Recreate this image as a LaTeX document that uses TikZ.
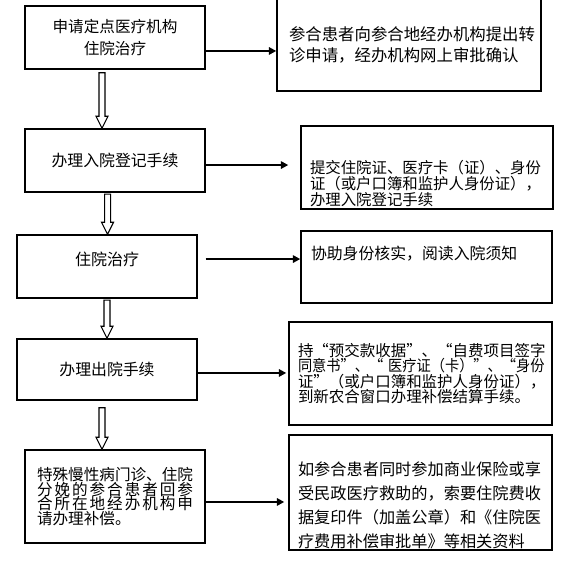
\documentclass[tikz,border=0pt]{standalone}
\usepackage{fontspec}
\usepackage{graphicx}
\setmainfont{Noto Sans CJK SC}
\usetikzlibrary{arrows.meta, calc}
\lineskiplimit=-\maxdimen

\tikzset{
  stepbox/.style={rectangle, draw=black, line width=1.1pt, fill=white,
    inner ysep=0.5pt, align=left},
  leftbox/.style={stepbox, text width=135pt, inner xsep=0pt, align=center},
  notebox/.style={stepbox, inner xsep=6.75pt},
  arrow/.style={-{Triangle[length=5.5pt,width=5.5pt]}, line width=1.5pt},
  hollow/.style={draw=black, line width=0.8pt, fill=white,
    to path={let \p1=(\tikztostart), \p2=(\tikztotarget) in
      (\x1-2.25pt,\y1) -- (\x1-2.25pt,\y2+9pt) -- (\x1-4.5pt,\y2+9pt)
      -- (\x1,\y2) -- (\x1+4.5pt,\y2+9pt) -- (\x1+2.25pt,\y2+9pt)
      -- (\x1+2.25pt,\y1) -- cycle}},
}

\begin{document}
\begin{tikzpicture}[x=0.75pt, y=-0.75pt]
  \useasboundingbox (0,0) rectangle (571,562);

  % left column: steps
  \node[leftbox, minimum height=47.25pt, font=\fontsize{11.7pt}{16.5pt}\selectfont]
    (apply) at (115,37.5) {申请定点医疗机构\\住院治疗};
  \node[leftbox, minimum height=47.25pt, font=\fontsize{11.9pt}{14pt}\selectfont]
    (admit) at (115,160.5) {办理入院登记手续};
  \node[leftbox, minimum height=47.25pt, font=\fontsize{12pt}{14pt}\selectfont]
    (treat) at (107,266.5) {住院治疗\rule[-11.25pt]{0pt}{11.25pt}};
  \node[leftbox, minimum height=45.75pt, font=\fontsize{11.9pt}{14pt}\selectfont]
    (leave) at (107,369.5) {办理出院手续};
  \node[leftbox, text width=117pt, inner xsep=9pt, align=left, minimum height=69.75pt,
        font=\fontsize{11.7pt}{11pt}\selectfont]
    (claim) at (115,496.5) {特殊慢性病门诊、住院\\
      \makebox[117pt][s]{分\hfill 娩\hfill 的\hfill 参\hfill 合\hfill 患\hfill 者\hfill 回\hfill 参}\\
      \makebox[117pt][s]{合\hfill 所\hfill 在\hfill 地\hfill 经\hfill 办\hfill 机\hfill 构\hfill 申}\\
      请办理补偿。};

  % right column: notes
  \node[notebox, text width=180pt, inner xsep=9pt, minimum height=69pt,
        font=\fontsize{12.3pt}{15.75pt}\selectfont]
    (referral) at (409,45) {参合患者向参合地经办机构提出转\\诊申请，经办机构网上审批确认};
  \node[notebox, text width=175.5pt, minimum height=62.25pt,
        font=\fontsize{11.55pt}{12pt}\selectfont]
    (papers) at (427,167.5) {\rule{0pt}{34.4pt}提交住院证、医疗卡（证）、身份\\
      证（或户口簿和监护人身份证），\\办理入院登记手续};
  \node[notebox, text width=173.25pt, inner xsep=7.5pt, minimum height=54pt,
        font=\fontsize{11.9pt}{14pt}\selectfont]
    (verify) at (426.5,267) {协助身份核实，阅读入院须知\rule[-21.8pt]{0pt}{21.8pt}};
  \node[notebox, text width=183.75pt, minimum height=77.25pt,
        font=\fontsize{11.6pt}{11.5pt}\selectfont]
    (settle) at (420.5,373.5) {持“预交款收据”、“自费项目签字\\
      \scalebox{0.92}[1]{同意书”、“ 医疗证（卡）”、“身份}\\
      证”（或户口簿和监护人身份证），\\
      到新农合窗口办理补偿结算手续。};
  \node[notebox, text width=183.75pt, minimum height=86.25pt,
        font=\fontsize{12.15pt}{17.8pt}\selectfont]
    (insure) at (420.5,492.5) {\rule{0pt}{29.6pt}如参合患者同时参加商业保险或享\\
      受民政医疗救助的，索要住院费收\\据复印件（加盖公章）和《住院医\\
      疗费用补偿审批单》等相关资料};

  % side arrows
  \draw[arrow] ([yshift=-10.1pt]apply.east) coordinate (a1) -- (a1 -| referral.west);
  \draw[arrow, shorten >=9pt] ([yshift=-3.4pt]admit.east) coordinate (a2) -- (a2 -| papers.west);
  \draw[arrow, shorten <=6pt] ([yshift=5.6pt]treat.east) coordinate (a3) -- (a3 -| verify.west);
  \draw[arrow, shorten >=1.5pt] ([yshift=-2.6pt]leave.east) coordinate (a4) -- (a4 -| settle.west);
  \draw[arrow, shorten >=3pt] ([yshift=-4.1pt]claim.east) coordinate (a5) -- (a5 -| insure.west);

  % hollow down arrows
  \draw[hollow] ([xshift=-9.75pt,yshift=-2.25pt]apply.south) to ([xshift=-9.75pt]admit.north);
  \draw[hollow] ([xshift=-5.6pt,yshift=-1pt]admit.south) to ([xshift=-5.6pt]treat.north);
  \draw[hollow] ([yshift=-1pt]treat.south) to (leave.north);
  \draw[hollow] ([xshift=-3.75pt,yshift=-5.25pt]leave.south) to ([xshift=-3.75pt]claim.north);
\end{tikzpicture}
\end{document}
